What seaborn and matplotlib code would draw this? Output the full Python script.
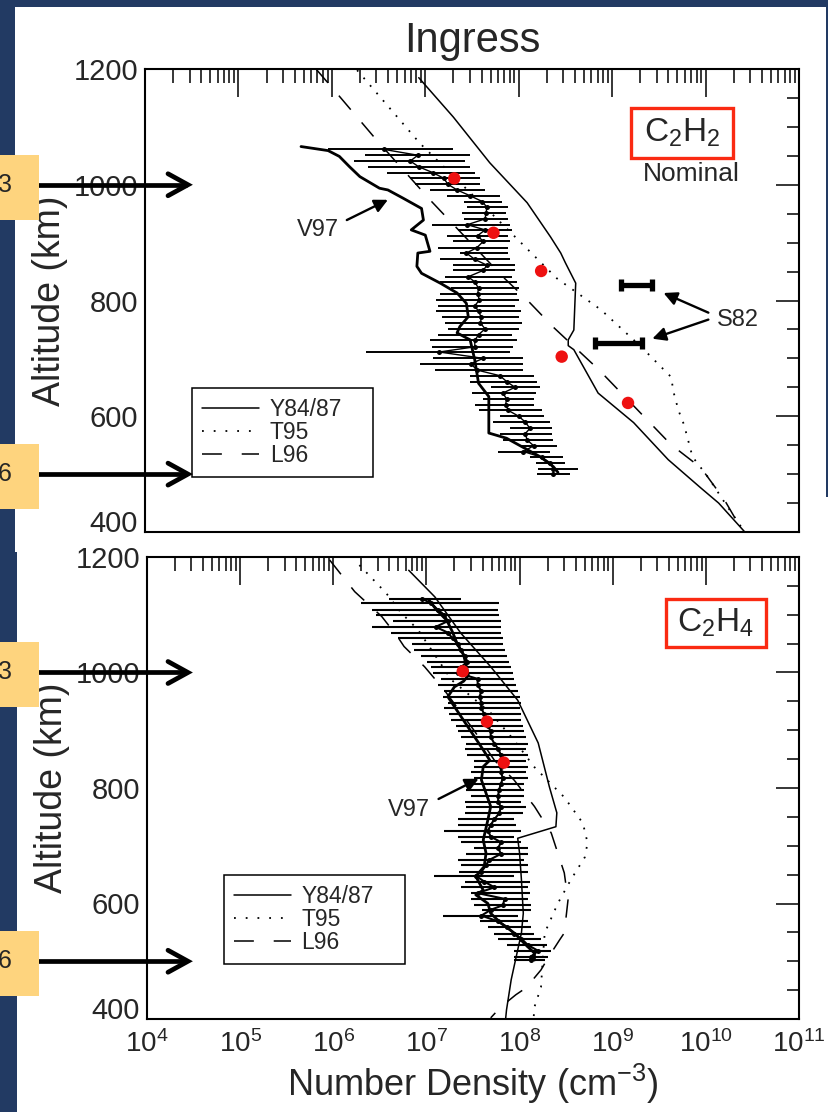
import numpy as np
import pandas as pd
import seaborn as sns
import matplotlib
matplotlib.use("Agg")
import matplotlib.pyplot as plt
from matplotlib.patches import Rectangle
from matplotlib.lines import Line2D
from matplotlib.ticker import LogLocator, MultipleLocator, NullFormatter

sns.set_theme(style="white")
plt.rcParams['font.family'] = ['Liberation Sans', 'DejaVu Sans']
plt.rcParams['mathtext.fontset'] = 'custom'
plt.rcParams['mathtext.rm'] = 'Liberation Sans'
plt.rcParams['mathtext.it'] = 'Liberation Sans:italic'
plt.rcParams['mathtext.bf'] = 'Liberation Sans:bold'

NAVY = '#223a63'
YELLOW = '#fed47e'
BOXRED = '#fa2a12'
DOTRED = '#ee1111'

# ---------------- C2H2 (upper panel), densities as log10(n / cm^-3) ----------------
c2h2_y84_alt = [1185, 1117, 1038, 969, 910, 882, 865, 830, 749, 732, 722, 715, 640, 589, 525, 476, 450, 400]
c2h2_y84_log = [6.93, 7.30, 7.69, 8.09, 8.34, 8.45, 8.50, 8.61, 8.59, 8.53, 8.53, 8.59, 8.85, 9.23, 9.60, 9.95, 10.14, 10.42]

c2h2_t95_alt = [1198, 1072, 939, 838, 784, 720, 668, 640, 610, 585, 530, 494, 452, 409, 400]
c2h2_t95_log = [6.27, 6.94, 7.78, 8.41, 8.88, 9.31, 9.63, 9.66, 9.71, 9.77, 9.86, 10.03, 10.20, 10.38, 10.42]

c2h2_l96_alt = [1200, 1172, 1077, 974, 841, 801, 754, 680, 551, 511, 456, 420, 400]
c2h2_l96_log = [5.83, 5.98, 6.48, 7.05, 7.83, 8.09, 8.37, 8.86, 9.63, 9.95, 10.20, 10.33, 10.42]

c2h2_v97_alt = [1066, 1059, 1049, 1031, 1014, 994, 991, 977, 959, 939, 922, 913, 885, 882, 859, 847,
                830, 813, 795, 772, 755, 744, 732, 697, 657, 634, 571, 562, 530, 513, 503]
c2h2_v97_log = [5.67, 5.96, 6.08, 6.19, 6.30, 6.51, 6.60, 6.76, 6.96, 6.98, 6.85, 7.00, 7.05, 6.92, 6.91, 6.96,
                7.16, 7.34, 7.44, 7.46, 7.37, 7.34, 7.48, 7.53, 7.57, 7.68, 7.68, 7.87, 8.23, 8.37, 8.42]

c2h2_alt = [1061, 1051, 1041, 1031, 1021, 1011, 1001, 991, 981, 971, 961, 951, 941, 931, 922, 912, 902, 891,
            882, 871, 861, 852, 841, 832, 821, 811, 801, 791, 781, 771, 761, 751, 741, 731, 720, 711, 700,
            691, 680, 670, 660, 650, 640, 630, 620, 610, 600, 590, 579, 570, 559, 549, 539, 529, 519, 509, 500]
c2h2_log = [6.56, 6.92, 6.84, 6.93, 7.08, 7.20, 7.24, 7.34, 7.48, 7.61, 7.66, 7.65, 7.64, 7.45, 7.64, 7.56, 7.62, 7.55,
            7.44, 7.53, 7.66, 7.62, 7.46, 7.53, 7.57, 7.56, 7.58, 7.53, 7.57, 7.60, 7.59, 7.64, 7.57, 7.53, 7.53, 7.15, 7.62,
            7.49, 7.55, 7.80, 7.87, 7.96, 7.83, 7.87, 7.86, 7.89, 8.00, 8.07, 8.12, 8.07, 8.09, 8.16, 8.05, 8.25, 8.34, 8.37, 8.37]
c2h2_lo = [5.96, 6.35, 6.24, 6.39, 6.59, 6.84, 6.89, 7.05, 7.23, 7.41, 7.45, 7.39, 7.41, 7.07, 7.35, 7.23, 7.30, 7.14,
           7.37, 7.16, 7.30, 7.30, 7.21, 7.16, 7.27, 7.16, 7.12, 7.14, 7.12, 7.18, 7.21, 7.24, 7.14, 7.05, 7.07, 6.37, 7.08,
           6.94, 7.10, 7.48, 7.48, 7.70, 7.50, 7.62, 7.53, 7.57, 7.80, 7.73, 7.91, 7.80, 7.83, 8.02, 7.78, 8.12, 8.18, 8.21, 8.20]
c2h2_hi = [7.30, 7.48, 7.43, 7.48, 7.53, 7.59, 7.59, 7.64, 7.80, 7.82, 7.88, 7.86, 7.88, 7.91, 7.93, 7.89, 7.91, 7.88,
           7.88, 7.91, 7.96, 7.96, 7.93, 7.98, 8.00, 7.98, 8.00, 7.96, 8.02, 8.00, 8.04, 8.00, 7.93, 7.98, 7.94, 7.91, 8.05,
           8.05, 8.05, 8.16, 8.20, 8.23, 8.18, 8.16, 8.16, 8.25, 8.27, 8.34, 8.36, 8.36, 8.37, 8.41, 8.34, 8.47, 8.50, 8.63, 8.55]

c2h2_red_alt = [1011, 917, 851, 703, 623]
c2h2_red_log = [7.31, 7.73, 8.24, 8.46, 9.17]

s82_alt = [826, 726]
s82_lo = [9.10, 8.82]
s82_hi = [9.43, 9.32]

# ---------------- C2H4 (lower panel) ----------------
c2h4_y84_alt = [1177, 1131, 1068, 1010, 952, 878, 802, 757, 733, 713, 687, 641, 583, 549, 505, 468, 416, 400]
c2h4_y84_log = [6.81, 7.09, 7.37, 7.69, 7.98, 8.20, 8.32, 8.40, 8.39, 7.98, 8.00, 8.02, 8.04, 8.02, 7.96, 7.91, 7.86, 7.85]

c2h4_t95_alt = [1186, 1137, 1103, 1074, 987, 930, 883, 836, 784, 739, 705, 680, 641, 600, 549, 507, 455, 421, 400]
c2h4_t95_log = [6.28, 6.57, 6.73, 6.91, 7.27, 7.69, 7.94, 8.16, 8.48, 8.68, 8.73, 8.70, 8.55, 8.41, 8.27, 8.25, 8.23, 8.16, 8.15]

c2h4_l96_alt = [1195, 1140, 1097, 1062, 1045, 1010, 970, 900, 848, 814, 768, 722, 653, 606, 549, 537, 507, 485, 454, 442, 421, 402]
c2h4_l96_log = [5.96, 6.23, 6.52, 6.69, 6.76, 6.98, 7.19, 7.51, 7.73, 7.94, 8.16, 8.34, 8.48, 8.52, 8.48, 8.43, 8.31, 8.23, 8.07, 7.96, 7.80, 7.69]

c2h4_v97_alt = [1125, 1110, 1090, 1070, 1050, 1030, 1010, 995, 985, 975, 958, 866, 848, 837, 814, 791, 768, 745,
                710, 687, 664, 647, 623, 615, 600, 583, 566, 548, 531, 514, 502]
c2h4_v97_log = [7.03, 7.10, 7.22, 7.28, 7.33, 7.40, 7.43, 7.45, 7.40, 7.30, 7.23, 7.61, 7.68, 7.61, 7.59, 7.64, 7.69, 7.66,
                7.61, 7.64, 7.62, 7.53, 7.61, 7.53, 7.66, 7.69, 7.80, 7.95, 8.05, 8.16, 8.16]

c2h4_alt = [1128, 1120, 1109, 1100, 1089, 1079, 1069, 1059, 1049, 1039, 1029, 1019, 1009, 999, 989, 978, 968, 958,
            948, 938, 928, 918, 908, 898, 888, 877, 868, 857, 847, 837, 827, 817, 807, 797, 787, 776, 767, 756,
            746, 736, 726, 716, 706, 696, 686, 675, 666, 655, 648, 638, 628, 618, 608, 597, 589, 579, 569, 559,
            548, 539, 528, 518, 508, 502]
c2h4_log = [6.95, 7.05, 7.12, 7.19, 7.23, 7.10, 7.23, 7.28, 7.34, 7.37, 7.41, 7.44, 7.37, 7.34, 7.55, 7.55, 7.59, 7.57,
            7.59, 7.59, 7.62, 7.64, 7.66, 7.69, 7.69, 7.73, 7.77, 7.80, 7.82, 7.80, 7.80, 7.82, 7.80, 7.78, 7.77, 7.77, 7.80, 7.78,
            7.73, 7.69, 7.66, 7.69, 7.80, 7.77, 7.80, 7.67, 7.64, 7.59, 7.53, 7.62, 7.73, 7.55, 7.84, 7.82, 7.69, 7.59, 7.77, 7.87,
            7.94, 8.02, 8.09, 8.20, 8.12, 8.12]
c2h4_lo = [6.60, 6.30, 6.42, 6.46, 6.64, 6.42, 6.62, 6.69, 6.84, 6.87, 6.94, 7.01, 7.05, 7.07, 7.16, 7.12, 7.19, 7.18,
           7.23, 7.19, 7.24, 7.26, 7.32, 7.34, 7.37, 7.43, 7.41, 7.44, 7.51, 7.51, 7.48, 7.51, 7.43, 7.43, 7.48, 7.41, 7.43, 7.41,
           7.34, 7.34, 7.19, 7.34, 7.37, 7.51, 7.43, 7.34, 7.37, 7.35, 7.08, 7.41, 7.37, 7.48, 7.48, 7.51, 7.60, 7.18, 7.58, 7.66,
           7.73, 7.77, 7.87, 7.94, 7.94, 7.94]
c2h4_hi = [7.37, 7.78, 7.77, 7.78, 7.80, 7.80, 7.80, 7.82, 7.82, 7.84, 7.86, 7.89, 7.91, 7.93, 7.94, 7.96, 7.98, 8.00,
           8.02, 8.00, 8.02, 8.02, 8.04, 8.05, 8.07, 8.09, 8.07, 8.09, 8.07, 8.09, 8.07, 8.09, 8.05, 8.05, 8.05, 8.02, 8.07, 8.04,
           7.94, 7.96, 8.02, 7.94, 8.02, 8.09, 8.09, 8.05, 8.09, 8.09, 7.94, 8.11, 8.09, 8.11, 8.09, 8.12, 8.12, 7.98, 8.09, 8.12,
           8.16, 8.23, 8.29, 8.34, 8.30, 8.27]

c2h4_red_alt = [1002, 915, 844]
c2h4_red_log = [7.39, 7.65, 7.83]

model_labels = ['Y84/87', 'T95', 'L96']
y_ticks = [400, 600, 800, 1000, 1200]
arrow_levels = [1000, 500]
arrow_numbers = ['3', '6']

DOTTED = (0, (1, 4.5))
DASHED = (0, (12, 11))

W, H = 829, 1112
fig = plt.figure(figsize=(W / 100, H / 100), dpi=100, facecolor=NAVY)


def frac_rect(x0, y0, x1, y1):
    return [x0 / W, 1 - y1 / H, (x1 - x0) / W, (y1 - y0) / H]


# white sheets behind the two panels
bg = fig.add_axes([0, 0, 1, 1], zorder=-5)
bg.set_xlim(0, W)
bg.set_ylim(H, 0)
bg.axis('off')
bg.add_patch(Rectangle((15, 7), 811, 545, facecolor='white', lw=0))
bg.add_patch(Rectangle((17, 497), 812, 615, facecolor='white', lw=0))

ax1 = fig.add_axes(frac_rect(145, 69, 799, 532))
ax2 = fig.add_axes(frac_rect(147, 557, 799, 1019))


def dens(vals):
    return np.power(10.0, np.asarray(vals, dtype=float))


def style_axes(ax, show_x):
    ax.set_xscale('log')
    ax.set_xlim(1e4, 1e11)
    ax.set_ylim(400, 1200)
    ax.set_facecolor('none')
    ax.xaxis.set_major_locator(LogLocator(base=10, numticks=20))
    ax.xaxis.set_minor_locator(LogLocator(base=10, subs=np.arange(2, 10), numticks=200))
    ax.xaxis.set_minor_formatter(NullFormatter())
    ax.yaxis.set_minor_locator(MultipleLocator(50))
    ax.set_yticks(y_ticks)
    for s in ax.spines.values():
        s.set_color('black')
        s.set_linewidth(1.5)
    ax.tick_params(which='both', direction='in', top=True, right=True, color='black', width=1.1)
    ax.tick_params(axis='x', which='major', length=20, pad=8, labelsize=20)
    ax.tick_params(axis='x', which='minor', length=10)
    ax.tick_params(axis='y', which='major', length=16.5, pad=5, labelsize=21)
    ax.tick_params(axis='y', which='minor', length=8.3)
    ax.tick_params(axis='x', labelbottom=show_x)
    ax.set_ylabel('Altitude (km)', fontsize=27, labelpad=4)
    ax.set_xlabel('')
    # keep the end labels inside the frame
    ylabels = ax.yaxis.get_majorticklabels()
    ylabels[0].set_verticalalignment('baseline')
    ylabels[-1].set_verticalalignment('center_baseline')


def draw_models(ax, y84, t95, l96):
    sns.lineplot(x=dens(y84[1]), y=y84[0], sort=False, estimator=None, ax=ax, color='black', lw=1.1)
    sns.lineplot(x=dens(t95[1]), y=t95[0], sort=False, estimator=None, ax=ax, color='black', lw=1.3,
                 linestyle=DOTTED)
    sns.lineplot(x=dens(l96[1]), y=l96[0], sort=False, estimator=None, ax=ax, color='black', lw=1.1,
                 linestyle=DASHED)


def draw_retrieval(ax, alt, logn, lo, hi, v97_alt, v97_log, red_alt, red_log, bar_lw, line_lw):
    ax.hlines(alt, dens(lo), dens(hi), color='black', lw=bar_lw, zorder=3)
    sns.lineplot(x=dens(v97_log), y=v97_alt, sort=False, estimator=None, ax=ax, color='black', lw=2.0, zorder=4)
    sns.lineplot(x=dens(logn), y=alt, sort=False, estimator=None, ax=ax, color='black', lw=line_lw,
                 marker='o', markersize=3.6, markeredgewidth=0, zorder=5)
    sns.scatterplot(x=dens(red_log), y=red_alt, ax=ax, color=DOTRED, s=80, edgecolor='none', zorder=6)


def add_legend(ax, anchor):
    handles = [Line2D([], [], color='black', lw=1.1),
               Line2D([], [], color='black', lw=1.3, linestyle=(0, (1, 5.5))),
               Line2D([], [], color='black', lw=1.1, linestyle=(0, (13, 13)))]
    leg = ax.legend(handles, model_labels, loc='lower left', bbox_to_anchor=anchor, mode='expand',
                    borderaxespad=0, frameon=True, fancybox=False, framealpha=1, edgecolor='black',
                    fontsize=16.5, handlelength=2.5, handletextpad=0.45, borderpad=0.44, labelspacing=0.0)
    leg.get_frame().set_linewidth(1.1)


# ---------------- upper panel ----------------
style_axes(ax1, show_x=False)
draw_models(ax1, (c2h2_y84_alt, c2h2_y84_log), (c2h2_t95_alt, c2h2_t95_log), (c2h2_l96_alt, c2h2_l96_log))
draw_retrieval(ax1, c2h2_alt, c2h2_log, c2h2_lo, c2h2_hi, c2h2_v97_alt, c2h2_v97_log,
               c2h2_red_alt, c2h2_red_log, bar_lw=1.4, line_lw=1.0)

s82_mid = np.sqrt(dens(s82_lo) * dens(s82_hi))
ax1.errorbar(s82_mid, s82_alt, xerr=[s82_mid - dens(s82_lo), dens(s82_hi) - s82_mid], fmt='none',
             ecolor='black', elinewidth=3.8, capsize=4.4, capthick=3.8, zorder=6)
arrow_kw = dict(arrowstyle='-|>', color='black', lw=1.7, mutation_scale=20, shrinkA=0, shrinkB=0)
ax1.annotate('', xy=(10 ** 9.55, 813), xytext=(10 ** 10.03, 779), arrowprops=arrow_kw)
ax1.annotate('', xy=(10 ** 9.43, 734), xytext=(10 ** 10.03, 767), arrowprops=arrow_kw)
ax1.text(10 ** 10.35, 766, 'S82', fontsize=17, ha='center', va='center')

ax1.annotate('', xy=(10 ** 6.60, 974), xytext=(10 ** 6.16, 939), arrowprops=arrow_kw)
ax1.text(10 ** 5.85, 922, 'V97', fontsize=17, ha='center', va='center')

ax1.add_patch(Rectangle((0.743, 0.808), 0.156, 0.108, transform=ax1.transAxes, fill=False,
                        edgecolor=BOXRED, lw=2.4, zorder=7))
ax1.text(0.821, 0.862, r'$\mathregular{C_2H_2}$', transform=ax1.transAxes, fontsize=24,
         ha='center', va='center', zorder=8)
ax1.text(0.836, 0.773, 'Nominal', transform=ax1.transAxes, fontsize=19, ha='center', va='center')
add_legend(ax1, (0.072, 0.119, 0.277, 0.194))
ax1.set_title('Ingress', fontsize=30, pad=12)

# ---------------- lower panel ----------------
style_axes(ax2, show_x=True)
draw_models(ax2, (c2h4_y84_alt, c2h4_y84_log), (c2h4_t95_alt, c2h4_t95_log), (c2h4_l96_alt, c2h4_l96_log))
draw_retrieval(ax2, c2h4_alt, c2h4_log, c2h4_lo, c2h4_hi, c2h4_v97_alt, c2h4_v97_log,
               c2h4_red_alt, c2h4_red_log, bar_lw=1.5, line_lw=1.5)
ax2.annotate('', xy=(10 ** 7.56, 816), xytext=(10 ** 7.13, 781), arrowprops=arrow_kw)
ax2.text(10 ** 6.81, 762, 'V97', fontsize=17, ha='center', va='center')
ax2.add_patch(Rectangle((0.796, 0.805), 0.153, 0.104, transform=ax2.transAxes, fill=False,
                        edgecolor=BOXRED, lw=2.4, zorder=7))
ax2.text(0.872, 0.857, r'$\mathregular{C_2H_4}$', transform=ax2.transAxes, fontsize=24,
         ha='center', va='center', zorder=8)
add_legend(ax2, (0.118, 0.119, 0.278, 0.194))
ax2.set_xlabel(r'Number Density (cm$^{\mathregular{-3}}$)', fontsize=26, labelpad=3)

# ---------------- level markers at the left edge ----------------
ov = fig.add_axes([0, 0, 1, 1], zorder=10)
ov.set_xlim(0, W)
ov.set_ylim(H, 0)
ov.axis('off')
for ax in (ax1, ax2):
    for level, num in zip(arrow_levels, arrow_numbers):
        ypix = H - ax.transData.transform((1e5, level))[1]
        ov.plot([0, 187], [ypix, ypix], color='black', lw=3.4, solid_capstyle='butt')
        ov.plot([168, 188, 168], [ypix - 11, ypix, ypix + 11], color='black', lw=3.4,
                solid_capstyle='round', solid_joinstyle='miter')
        ov.add_patch(Rectangle((0, ypix - 30), 39, 65, facecolor=YELLOW, lw=0, zorder=5))
        ov.text(12, ypix, num, fontsize=18, ha='right', va='center', zorder=6)

fig.savefig('out.png', dpi=100, facecolor=NAVY)
